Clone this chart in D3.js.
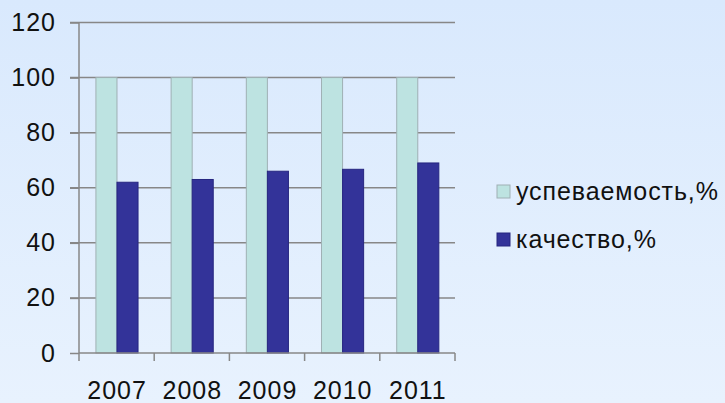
<!DOCTYPE html>
<html><head><meta charset="utf-8">
<script src="https://cdn.jsdelivr.net/npm/d3@7"></script>
<style>
html,body{margin:0;padding:0;}
body{width:725px;height:403px;overflow:hidden;}
svg{display:block;}
</style></head>
<body>
<script>
const years = ["2007","2008","2009","2010","2011"];
const seriesNames = ["успеваемость,%","качество,%"];
const uspevaemost = [100,100,100,100,100];
const kachestvo = [62,63,66,66.7,69];
const yTicks = [0,20,40,60,80,100,120];
const colors = ["#bde3e1","#333399"];
const strokes = ["#9fb0b4","#262680"];

(function(){
const W=725,H=403;
const svg=d3.select("body").append("svg").attr("width",W).attr("height",H);
const defs=svg.append("defs");
const g=defs.append("linearGradient").attr("id","bg").attr("x1",0).attr("y1",0).attr("x2",0).attr("y2",1);
g.append("stop").attr("offset","0%").attr("stop-color","#d9e9fd");
g.append("stop").attr("offset","100%").attr("stop-color","#e8f2fe");
svg.append("rect").attr("width",W).attr("height",H).attr("fill","url(#bg)");

const pLeft=79,pRight=455,pTop=22.5,pBottom=353;
const x=d3.scaleBand().domain(years).range([pLeft,pRight]).padding(0);
const bw=x.bandwidth();
const x1=d3.scaleBand().domain(seriesNames).range([bw*0.225,bw*0.785]).padding(0);
const y=d3.scaleLinear().domain([0,120]).range([pBottom,pTop]);

const font="'Liberation Sans', Arial, sans-serif";
svg.append("g").selectAll("line").data(yTicks.filter(d=>d>0)).join("line")
 .attr("x1",70).attr("x2",pRight).attr("y1",d=>y(d)).attr("y2",d=>y(d))
 .attr("stroke","#878787").attr("stroke-width",1.5);

const data=years.map((yr,i)=>({yr,vals:[uspevaemost[i],kachestvo[i]]}));
const grp=svg.append("g").selectAll("g").data(data).join("g")
 .attr("transform",d=>`translate(${x(d.yr)},0)`);
grp.selectAll("rect").data(d=>d.vals.map((v,j)=>({v,j}))).join("rect")
 .attr("x",d=>x1(seriesNames[d.j])).attr("width",x1.bandwidth())
 .attr("y",d=>y(d.v)).attr("height",d=>pBottom-y(d.v))
 .attr("fill",d=>colors[d.j]).attr("stroke",d=>strokes[d.j]).attr("stroke-width",1);

const yAxis=d3.axisLeft(y).tickValues(yTicks).tickSize(9).tickPadding(14);
const ya=svg.append("g").attr("transform",`translate(${pLeft},0)`).call(yAxis);
ya.select(".domain").attr("stroke","#878787").attr("stroke-width",1.5).attr("fill","none").attr("d",`M0,${pTop}V${pBottom+8}`);
ya.selectAll(".tick line").attr("stroke","#878787").attr("stroke-width",1.5);
ya.selectAll("text").attr("font-family",font).attr("font-size",25).attr("letter-spacing","1px").attr("fill","#111");

const xa=svg.append("g").attr("transform",`translate(0,${pBottom})`);
xa.append("line").attr("x1",pLeft).attr("x2",pRight).attr("y1",0).attr("y2",0).attr("stroke","#878787").attr("stroke-width",1.5);
const bounds=years.map(d=>x(d)+bw);
xa.selectAll("line.t").data(bounds).join("line").attr("class","t")
 .attr("x1",d=>d).attr("x2",d=>d).attr("y1",0).attr("y2",8).attr("stroke","#878787").attr("stroke-width",1.5);
xa.selectAll("text").data(years).join("text")
 .attr("x",d=>x(d)+bw/2+0.5).attr("y",46).attr("text-anchor","middle")
 .attr("font-family",font).attr("font-size",25).attr("letter-spacing","1px").attr("fill","#111").text(d=>d);

const lg=svg.append("g").selectAll("g").data(seriesNames).join("g")
 .attr("transform",(d,i)=>`translate(497,${185+i*48})`);
lg.append("rect").attr("width",13).attr("height",13)
 .attr("fill",(d,i)=>colors[i]).attr("stroke",(d,i)=>strokes[i]).attr("stroke-width",1);
lg.append("text").attr("x",19).attr("y",15).attr("font-family",font).attr("font-size",25).attr("letter-spacing","0.9px").attr("fill","#111").text(d=>d);
})();
</script>
</body></html>
